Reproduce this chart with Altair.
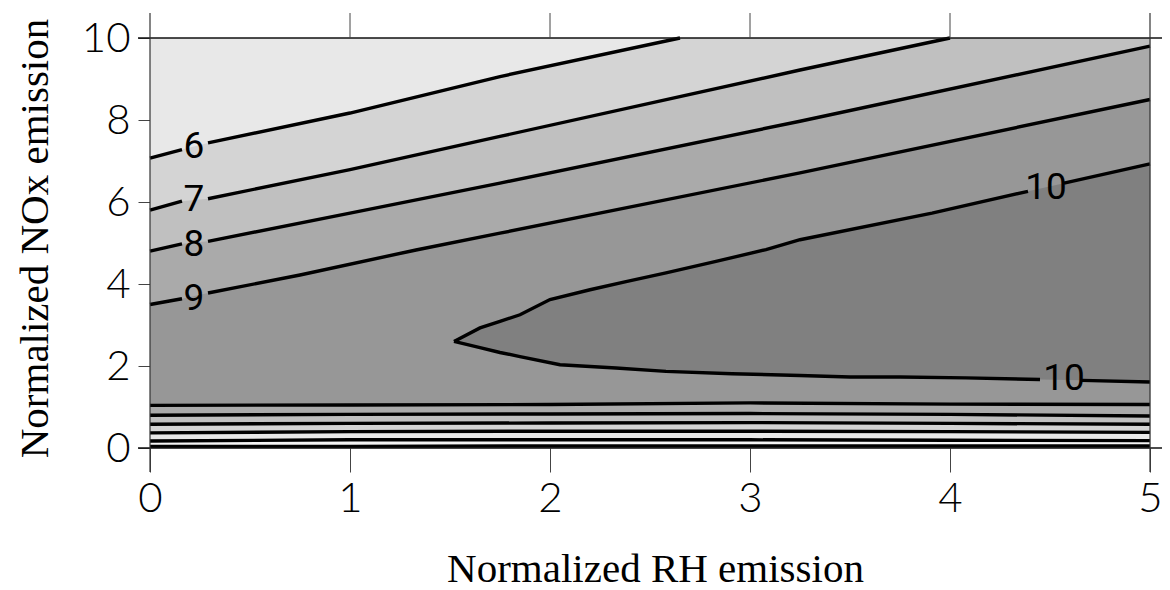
import altair as alt
import pandas as pd

# ---- contour lines (x = normalized RH, y = normalized NOx)
c6_x = [0.0, 0.16, 0.29, 1.0, 1.75, 2.65]
c6_y = [7.07, 7.28, 7.44, 8.17, 9.06, 10.0]
c7_x = [0.0, 0.16, 0.29, 1.0, 1.75, 3.25, 4.0]
c7_y = [5.80, 6.02, 6.08, 6.79, 7.60, 9.22, 10.0]
c8_x = [0.0, 0.16, 0.29, 1.0, 1.75, 3.25, 5.0]
c8_y = [4.80, 4.98, 5.04, 5.73, 6.46, 7.97, 9.80]
c9_x = [0.0, 0.16, 0.29, 0.75, 1.33, 1.75, 3.25, 5.0]
c9_y = [3.50, 3.64, 3.78, 4.22, 4.83, 5.24, 6.71, 8.50]
c10u_x = [1.52, 1.65, 1.75, 1.85, 2.0, 2.2, 2.38, 2.58, 2.83, 3.08, 3.25, 3.91, 4.39, 4.57, 5.0]
c10u_y = [2.60, 2.93, 3.09, 3.25, 3.62, 3.86, 4.06, 4.27, 4.55, 4.84, 5.08, 5.73, 6.26, 6.46, 6.93]
c10l_x = [1.52, 1.65, 1.75, 1.85, 2.05, 2.33, 2.58, 2.91, 3.25, 3.5, 3.75, 4.08, 4.45, 4.66, 5.0]
c10l_y = [2.60, 2.45, 2.33, 2.23, 2.03, 1.95, 1.87, 1.81, 1.77, 1.73, 1.73, 1.71, 1.67, 1.65, 1.61]

# steep contours packed near NOx = 0 (levels 9 down to 4)
s_x = [0, 1, 2, 3, 4, 5]
s9 = [1.04, 1.05, 1.06, 1.10, 1.07, 1.06]
s8 = [0.80, 0.82, 0.83, 0.84, 0.82, 0.78]
s7 = [0.58, 0.60, 0.61, 0.62, 0.60, 0.58]
s6 = [0.37, 0.40, 0.41, 0.41, 0.40, 0.38]
s5 = [0.17, 0.20, 0.20, 0.20, 0.19, 0.18]
s4 = [0.04, 0.04, 0.05, 0.05, 0.05, 0.05]

# contour labels
lab_text = ["6", "7", "8", "9", "10", "10"]
lab_x = [0.22, 0.22, 0.22, 0.22, 4.48, 4.57]
lab_y = [7.35, 6.04, 4.96, 3.64, 6.35, 1.68]

x_ticks = [0, 1, 2, 3, 4, 5]
y_ticks = [0, 2, 4, 6, 8, 10]

W, H = 1000, 410

xs = alt.Scale(domain=[0, 5], nice=False, zero=False)
ys = alt.Scale(domain=[0, 10], nice=False, zero=False)

xaxis = alt.Axis(values=x_ticks, tickSize=24, tickColor="#444", tickWidth=1,
                 domain=False, grid=False, labelFont="Lato", labelFontSize=42,
                 labelFontWeight=300, labelColor="black", labelPadding=6,
                 labelFlush=False, labelOverlap=False, format="d",
                 title="Normalized RH emission", titleFont="Liberation Serif",
                 titleFontSize=41, titleFontWeight="normal", titleColor="black",
                 titleX=505, titleY=133, titleBaseline="alphabetic", titleAlign="center")
yaxis = alt.Axis(values=y_ticks, tickSize=12, tickColor="#444", tickWidth=1,
                 domain=False, grid=False, labelFont="Lato", labelFontSize=42,
                 labelFontWeight=300, labelColor="black", labelPadding=8,
                 labelFlush=False, labelOverlap=False, format="d",
                 title="Normalized NOx emission", titleFont="Liberation Serif",
                 titleFontSize=41, titleFontWeight="normal", titleColor="black",
                 titleX=-103, titleY=200, titleAngle=270, titleBaseline="alphabetic",
                 titleAlign="center")


def X():
    return alt.X("x:Q", scale=xs, axis=xaxis)


def Y():
    return alt.Y("y:Q", scale=ys, axis=yaxis)


layers = []

# base fill of the plot area (band 9-10)
base = pd.DataFrame({"x": [0], "x2": [5], "y": [0], "y2": [10]})
layers.append(alt.Chart(base).mark_rect(color="#979797").encode(
    x=X(), x2="x2:Q", y=Y(), y2="y2:Q"))

# fills above a contour, painted from the inside out
fills_top = [
    (c10l_x, c10l_y, "#808080"),
    (c10u_x, c10u_y, "#979797"),
    (c9_x, c9_y, "#aaaaaa"),
    (c8_x, c8_y, "#c0c0c0"),
    (c7_x, c7_y, "#d4d4d4"),
    (c6_x, c6_y, "#e8e8e8"),
]
for xx, yy, col in fills_top:
    d = pd.DataFrame({"x": xx, "y": yy, "top": [10] * len(xx)})
    layers.append(alt.Chart(d).mark_area(color=col, opacity=1).encode(
        x=X(), y=Y(), y2="top:Q"))

fills_bottom = [
    (s9, "#aaaaaa"), (s8, "#c0c0c0"), (s7, "#d4d4d4"),
    (s6, "#e8e8e8"), (s5, "#f4f4f4"), (s4, "#fbfbfb"),
]
for yy, col in fills_bottom:
    d = pd.DataFrame({"x": s_x, "y": yy, "bot": [0] * len(s_x)})
    layers.append(alt.Chart(d).mark_area(color=col, opacity=1).encode(
        x=X(), y=Y(), y2="bot:Q"))

# contour lines (broken where labels sit)
rows = []
lines = [
    ("c6", c6_x, c6_y, (0.16, 0.29)),
    ("c7", c7_x, c7_y, (0.16, 0.29)),
    ("c8", c8_x, c8_y, (0.16, 0.29)),
    ("c9", c9_x, c9_y, (0.16, 0.29)),
    ("c10u", c10u_x, c10u_y, (4.39, 4.57)),
    ("c10l", c10l_x, c10l_y, (4.45, 4.66)),
]
for name, xx, yy, gap in lines:
    for a, b in zip(xx, yy):
        seg = 0 if a <= gap[0] else 1
        rows.append({"x": a, "y": b, "seg": f"{name}_{seg}"})
for name, yy in [("s9", s9), ("s8", s8), ("s7", s7), ("s6", s6), ("s5", s5), ("s4", s4)]:
    for a, b in zip(s_x, yy):
        rows.append({"x": a, "y": b, "seg": name})
line_df = pd.DataFrame(rows)
layers.append(alt.Chart(line_df).mark_line(color="black", strokeWidth=3.4).encode(
    x=X(), y=Y(), detail="seg:N"))

# contour labels
lab_df = pd.DataFrame({"x": lab_x, "y": lab_y, "t": lab_text})
layers.append(alt.Chart(lab_df).mark_text(
    font="Roboto", fontSize=37, color="black", align="center", baseline="middle").encode(
    x=X(), y=Y(), text="t:N"))

# frame lines that run past the plot area, and top ticks
hf = pd.DataFrame({"y": [0, 10]})
layers.append(alt.Chart(hf).mark_rule(color="#111", strokeWidth=1.5).encode(
    y=Y(), x=alt.value(-12), x2=alt.value(W + 12)))
vf = pd.DataFrame({"x": [0, 5]})
layers.append(alt.Chart(vf).mark_rule(color="#333", strokeWidth=1.2).encode(
    x=X(), y=alt.value(-25), y2=alt.value(H + 24)))
tt = pd.DataFrame({"x": x_ticks[1:-1]})
layers.append(alt.Chart(tt).mark_rule(color="#444", strokeWidth=1).encode(
    x=X(), y=alt.value(-25), y2=alt.value(0)))

chart = alt.layer(*layers).properties(
    width=W, height=H,
    autosize=alt.AutoSizeParams(type="none"),
    padding={"left": 150, "top": 38, "right": 20, "bottom": 142},
).configure_view(stroke=None).configure(background="white")

chart.save("out.html", embed_options={"renderer": "svg", "actions": False})
